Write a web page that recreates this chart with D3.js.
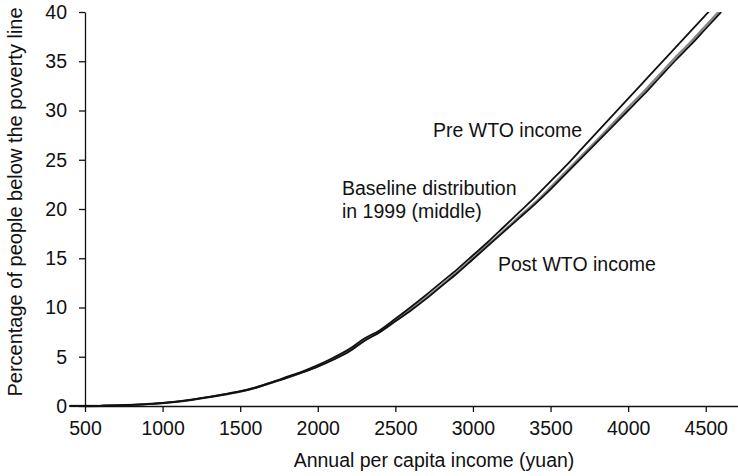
<!DOCTYPE html>
<html>
<head>
<meta charset="utf-8">
<script src="https://cdn.jsdelivr.net/npm/d3@7"></script>
<style>
  html, body { margin: 0; padding: 0; background: #fff; }
  svg { display: block; font-family: "Liberation Sans", Arial, Helvetica, sans-serif; }
</style>
</head>
<body>
<svg id="chart" width="738" height="476"></svg>
<script>
// Annual per capita income (yuan) at which each headcount is evaluated
const incomes = [400, 500, 600, 700, 800, 900, 1000, 1100, 1200, 1300, 1400, 1500,
  1600, 1700, 1800, 1900, 2000, 2100, 2200, 2300, 2400, 2500, 2600, 2700, 2800,
  2900, 3000, 3100, 3200, 3300, 3400, 3500, 3600, 3700, 3800, 3900, 4000, 4100,
  4200, 4300, 4400, 4500, 4600];

// Share of people below the poverty line (%) for each income threshold
const preWTO = [0, 0, 0.02, 0.06, 0.12, 0.2, 0.31, 0.46, 0.67, 0.92, 1.2, 1.5,
  1.9, 2.4, 2.95, 3.5, 4.15, 4.9, 5.75, 6.85, 7.7, 8.85, 10.05, 11.3, 12.6,
  13.9, 15.3, 16.7, 18.2, 19.7, 21.2, 22.8, 24.4, 26.1, 27.8, 29.5, 31.2, 32.9,
  34.6, 36.3, 38.0, 39.7, 41.4];
const baseline1999 = [0, 0, 0.02, 0.06, 0.12, 0.2, 0.3, 0.45, 0.66, 0.9, 1.17, 1.46,
  1.86, 2.36, 2.87, 3.42, 4.03, 4.75, 5.55, 6.65, 7.55, 8.65, 9.8, 11.0, 12.3,
  13.6, 15.0, 16.4, 17.8, 19.25, 20.65, 22.2, 23.8, 25.4, 27.0, 28.65, 30.3, 31.9,
  33.6, 35.3, 36.9, 38.6, 40.3];
const postWTO = [0, 0, 0.02, 0.06, 0.12, 0.2, 0.3, 0.45, 0.65, 0.9, 1.15, 1.45,
  1.85, 2.35, 2.85, 3.4, 4.0, 4.7, 5.5, 6.6, 7.5, 8.6, 9.7, 10.9, 12.2,
  13.5, 14.9, 16.3, 17.7, 19.1, 20.5, 22.0, 23.6, 25.2, 26.8, 28.4, 30.0, 31.6,
  33.3, 35.0, 36.6, 38.3, 40.0];

const xTicks = [500, 1000, 1500, 2000, 2500, 3000, 3500, 4000, 4500];
const yTicks = [0, 5, 10, 15, 20, 25, 30, 35, 40];

const svg = d3.select("#chart");
const fontSize = 19.5;

const x = d3.scaleLinear().domain([500, 4708]).range([85, 738]);
const y = d3.scaleLinear().domain([0, 40]).range([406, 12]);

// keep the curves inside the 0–40 % band
svg.append("defs").append("clipPath").attr("id", "plotClip")
  .append("rect").attr("x", 0).attr("y", y(40)).attr("width", 738).attr("height", 476 - y(40));

const line = d3.line()
  .x((d, i) => x(incomes[i]))
  .y(d => y(d))
  .curve(d3.curveMonotoneX);

const curves = svg.append("g").attr("clip-path", "url(#plotClip)");
const series = [
  { values: baseline1999, color: "#858585", width: 2.3 },
  { values: postWTO, color: "#111", width: 1.8 },
  { values: preWTO, color: "#111", width: 1.8 }
];
curves.selectAll("path").data(series).join("path")
  .attr("d", d => line(d.values))
  .attr("fill", "none")
  .attr("stroke", d => d.color)
  .attr("stroke-width", d => d.width)
  .attr("stroke-linejoin", "round");

// axes
const fmt = d3.format("d");
const xAxis = svg.append("g").attr("transform", `translate(0,${y(0)})`)
  .call(d3.axisBottom(x).tickValues(xTicks).tickFormat(fmt)
    .tickSize(6).tickSizeOuter(0).tickPadding(9));
const yAxis = svg.append("g").attr("transform", `translate(${x(500)},0)`)
  .call(d3.axisLeft(y).tickValues(yTicks).tickFormat(fmt)
    .tickSize(6).tickSizeOuter(0).tickPadding(12));

[xAxis, yAxis].forEach(g => {
  g.select(".domain").attr("stroke", "#111").attr("stroke-width", 1.3);
  g.selectAll(".tick line").attr("stroke", "#111").attr("stroke-width", 1.3);
  g.selectAll(".tick text")
    .attr("fill", "#111")
    .style("font-size", fontSize + "px")
    .style("font-family", "'Liberation Sans', Arial, sans-serif");
});

// axis titles
svg.append("text")
  .attr("x", 434).attr("y", 467)
  .attr("text-anchor", "middle")
  .style("font-size", fontSize + "px").attr("fill", "#111")
  .text("Annual per capita income (yuan)");

svg.append("text")
  .attr("transform", "translate(22,202) rotate(-90)")
  .attr("text-anchor", "middle")
  .style("font-size", "20px").attr("fill", "#111")
  .text("Percentage of people below the poverty line");

// curve labels
const labels = [
  { text: "Pre WTO income", lx: 433, ly: 137 },
  { text: "Baseline distribution", lx: 342, ly: 195 },
  { text: "in 1999 (middle)", lx: 342, ly: 218 },
  { text: "Post WTO income", lx: 498, ly: 271 }
];
svg.append("g").selectAll("text").data(labels).join("text")
  .attr("x", d => d.lx).attr("y", d => d.ly)
  .style("font-size", fontSize + "px").attr("fill", "#111")
  .text(d => d.text);
</script>
</body>
</html>
